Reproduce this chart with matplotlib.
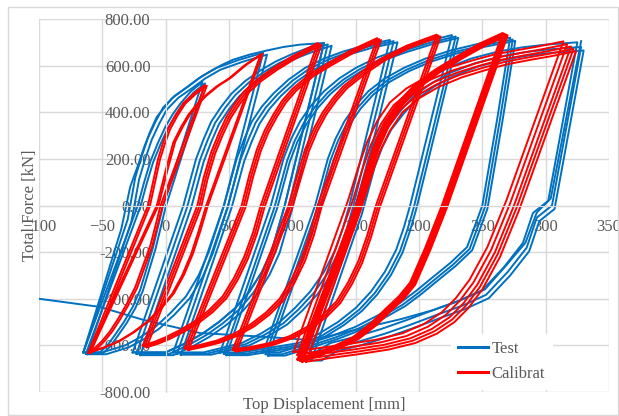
import matplotlib
matplotlib.use("Agg")
import matplotlib.pyplot as plt
from matplotlib.patches import Rectangle

plt.rcParams['font.family'] = ['Liberation Serif', 'DejaVu Serif']
plt.rcParams['font.size'] = 12

# Test cycles: loading branch (trough -> peak), unloading branch (peak -> trough),
# and the small drift between repeated cycles (dx [mm], dF [kN])
test_up_1 = [(-65, -630), (-22, 0), (-17, 100), (-12, 190), (-6, 270), (0, 340), (6, 395), (12, 440),
             (20, 490), (29, 530)]
test_dn_1 = [(29, 530), (-2, 0), (-6, -90), (-10, -180), (-15, -270), (-20, -360), (-26, -435), (-33, -500),
             (-40, -555), (-46, -600), (-52, -630), (-65, -630)]
test_cyc_1 = [(0, 0), (2, -6)]

test_up_2 = [(-65, -630), (-30, -60), (-27, 30), (-24, 120), (-19, 210), (-14, 290), (-8, 360), (-2, 420),
             (7, 470), (17, 508), (28, 552), (40, 590), (58, 625), (77, 655)]
test_dn_2 = [(77, 655), (46, 0), (40, -100), (34, -200), (26, -300), (16, -390), (4, -460), (-8, -520),
             (-20, -565), (-32, -600), (-50, -630), (-65, -630)]
test_cyc_2 = [(0, 0), (3, -8)]

test_up_3 = [(-65, -630), (-35, -100), (-28, 80), (-22, 170), (-17, 250), (-12, 320), (-7, 380), (5, 460),
             (17, 508), (26, 545), (35, 575), (44, 602), (53, 625), (66, 647), (80, 665), (93, 680),
             (106, 690), (125, 697)]
test_dn_3 = [(125, 697), (94, 0), (89, -95), (84, -190), (76, -285), (66, -370), (55, -440), (42, -500),
             (29, -550), (16, -590), (0, -630), (-26, -630)]
test_cyc_3 = [(0, 0)]

test_up_4 = [(-26, -630), (14, 0), (19, 100), (24, 200), (30, 285), (36, 360), (44, 425), (52, 480),
             (63, 535), (75, 580), (87, 618), (100, 650), (112, 675), (125, 697)]
test_dn_4 = test_dn_3
test_cyc_4 = [(0, 0), (3, -6), (6, -12)]

test_up_5 = [(6, -630), (46, 0), (51, 100), (56, 200), (62, 285), (68, 360), (76, 425), (85, 480),
             (97, 540), (110, 590), (125, 630), (140, 660), (158, 688), (177, 710)]
test_dn_5 = [(177, 710), (145, 0), (140, -95), (134, -190), (125, -285), (114, -370), (102, -440),
             (90, -500), (75, -550), (60, -590), (30, -630), (6, -630)]
test_cyc_5 = [(0, 0), (3, -5), (6, -10)]

test_up_6 = [(43, -630), (83, 0), (88, 100), (93, 200), (99, 285), (106, 360), (115, 430), (125, 490),
             (137, 545), (150, 590), (167, 635), (185, 670), (205, 703), (226, 731)]
test_dn_6 = [(226, 731), (193, 0), (188, -95), (182, -190), (173, -285), (162, -370), (150, -440),
             (136, -500), (121, -550), (105, -590), (60, -630), (43, -630)]
test_cyc_6 = [(0, 0), (3, -6), (5, -12)]

test_up_7 = [(77, -630), (118, 0), (123, 100), (128, 200), (134, 285), (141, 360), (150, 430), (160, 490),
             (173, 545), (188, 590), (205, 630), (225, 665), (248, 695), (272, 720)]
test_dn_7 = [(272, 720), (262, 380), (250, 0), (238, -178), (225, -245), (211, -307), (198, -365),
             (185, -418), (168, -470), (150, -520), (132, -558), (114, -590), (90, -630), (77, -630)]
test_cyc_7 = [(0, 0), (2, -8), (4, -14)]

test_up_8 = [(110, -630), (150, 0), (155, 100), (160, 200), (166, 285), (173, 360), (183, 430), (193, 490),
             (207, 545), (222, 590), (241, 630), (262, 660), (281, 678), (300, 690), (325, 700)]
test_dn_8 = [(325, 700), (302, 20), (290, -32), (282, -161), (267, -265), (250, -363), (231, -410),
             (211, -449), (190, -492), (170, -530), (150, -563), (130, -590), (118, -630), (110, -630)]
test_cyc_8 = [(0, 0), (3, -20), (5, -35)]

# last half cycle, pushed back past the start point
test_last = [(328, 705), (304, 30), (293, -30), (284, -160), (268, -262), (252, -360), (232, -408),
             (211, -449), (186, -487), (160, -520), (137, -550), (114, -577), (80, -564), (27, -547),
             (-18, -490), (-52, -435), (-100, -400)]

# Calibration cycles
cal_up_1 = [(-61, -630), (-14, 0), (-10, 100), (-6, 200), (-2, 270), (2, 330), (8, 390), (14, 440),
            (22, 480), (31, 517)]
cal_dn_1 = [(31, 517), (-4, 0), (-8, -85), (-12, -170), (-18, -260), (-24, -350), (-31, -425), (-38, -490),
            (-44, -540), (-50, -580), (-55, -607), (-61, -630)]
cal_cyc_1 = [(0, 0), (1.5, -3)]

cal_up_2 = [(-61, -632), (-7, 0), (0, 150), (6, 270), (12, 335), (18, 390), (24, 430), (30, 465),
            (40, 510), (50, 545), (62, 600), (75, 648)]
cal_dn_2 = [(75, 648), (32, 0), (26, -110), (20, -210), (13, -300), (5, -380), (-5, -445), (-15, -500),
            (-26, -545), (-38, -585), (-50, -612), (-61, -632)]
cal_cyc_2 = [(0, 0), (1.5, 3)]

cal_up_3 = [(-18, -600), (25, 0), (30, 120), (36, 230), (42, 310), (48, 380), (55, 440), (62, 490),
            (72, 540), (85, 590), (100, 640), (120, 697)]
cal_dn_3 = [(120, 697), (75, 0), (69, -115), (62, -220), (54, -310), (45, -390), (34, -450), (22, -500),
            (11, -535), (0, -565), (-9, -585), (-18, -600)]
cal_cyc_3 = [(0, 0), (1.5, -4), (3, -8)]

cal_up_4 = [(15, -612), (60, 0), (66, 130), (72, 240), (78, 320), (85, 390), (92, 450), (100, 500),
            (113, 560), (128, 610), (146, 665), (167, 718)]
cal_dn_4 = [(167, 718), (120, 0), (114, -120), (107, -230), (99, -320), (90, -400), (79, -460), (67, -510),
            (54, -550), (40, -580), (27, -598), (15, -612)]
cal_cyc_4 = [(0, 0), (1.5, -4), (3, -8)]

cal_up_5 = [(53, -618), (97, 0), (104, 130), (110, 240), (117, 330), (124, 400), (132, 460), (140, 510),
            (155, 575), (170, 630), (190, 685), (214, 733)]
cal_dn_5 = [(214, 733), (166, 0), (159, -130), (152, -240), (144, -330), (135, -410), (124, -470),
            (112, -520), (98, -560), (82, -590), (67, -607), (53, -618)]
cal_cyc_5 = [(0, 0), (1.5, -4), (3, -8)]

cal_up_6 = [(104, -660), (150, 0), (157, 130), (164, 250), (172, 350), (183, 440), (196, 515), (212, 580),
            (230, 640), (248, 695), (266, 740)]
cal_dn_6 = [(266, 740), (218, 0), (205, -180), (193, -330), (184, -390), (175, -436), (162, -505),
            (148, -564), (134, -600), (120, -628), (104, -660)]
cal_cyc_6 = [(0, 0), (0.8, -2), (1.6, -4), (2.4, -6), (3.2, -8), (4, -10)]

cal_up_7 = [(107, -650), (150, 0), (158, 140), (165, 250), (173, 340), (183, 420), (196, 480), (212, 530),
            (230, 570), (248, 600), (265, 625), (282, 643), (300, 660), (320, 682)]
cal_dn_7 = [(320, 682), (275, 0), (260, -200), (246, -340), (235, -420), (224, -480), (210, -530),
            (193, -570), (172, -598), (148, -618), (125, -635), (107, -650)]
cal_cyc_7 = [(-6, 22), (-3, 10), (0, 0), (2, -10), (4, -20)]

test_groups = [
    (test_up_1, test_dn_1, test_cyc_1),
    (test_up_2, test_dn_2, test_cyc_2),
    (test_up_3, test_dn_3, test_cyc_3),
    (test_up_4, test_dn_4, test_cyc_4),
    (test_up_5, test_dn_5, test_cyc_5),
    (test_up_6, test_dn_6, test_cyc_6),
    (test_up_7, test_dn_7, test_cyc_7),
    (test_up_8, test_dn_8, test_cyc_8),
]
cal_groups = [
    (cal_up_1, cal_dn_1, cal_cyc_1),
    (cal_up_2, cal_dn_2, cal_cyc_2),
    (cal_up_3, cal_dn_3, cal_cyc_3),
    (cal_up_4, cal_dn_4, cal_cyc_4),
    (cal_up_5, cal_dn_5, cal_cyc_5),
    (cal_up_6, cal_dn_6, cal_cyc_6),
    (cal_up_7, cal_dn_7, cal_cyc_7),
]

BLUE = '#0070C0'
RED = '#FF0000'
GRID = '#D9D9D9'
TXT = '#595959'


def draw_cycles(ax, groups, color, lw):
    for up, dn, cycles in groups:
        pts = up + dn[1:]
        for dx, df in cycles:
            ax.plot([p[0] + dx for p in pts], [p[1] + df for p in pts],
                    color=color, lw=lw, solid_joinstyle='round')


fig = plt.figure(figsize=(6.19, 4.16), dpi=100)
ax = fig.add_axes([39 / 619, 1 - 392 / 416, 570 / 619, 373 / 416])

draw_cycles(ax, test_groups, BLUE, 1.4)
ax.plot([p[0] for p in test_last], [p[1] for p in test_last], color=BLUE, lw=1.4)
draw_cycles(ax, cal_groups, RED, 1.4)

ax.set_xlim(-100, 350)
ax.set_ylim(-800, 800)
ax.set_xticks(range(-100, 351, 50))
ax.set_yticks(range(-800, 801, 200))
ax.set_yticklabels([f"{v:.2f}" for v in range(-800, 801, 200)])
ax.grid(True, color=GRID, lw=1.0)
ax.set_axisbelow(True)

# axes cross at the origin, labels sit next to them
ax.spines['left'].set_position(('data', 0))
ax.spines['bottom'].set_position(('data', 0))
for s in ['left', 'bottom']:
    ax.spines[s].set_color(GRID)
for s in ['top', 'right']:
    ax.spines[s].set_visible(False)
ax.tick_params(length=0, colors=TXT, labelsize=12)
ax.tick_params(axis='y', pad=11)
ax.tick_params(axis='x', pad=10)

fig.text(324 / 619, 1 - 405 / 416, 'Top Displacement [mm]', ha='center', va='center', color=TXT, fontsize=12)
fig.text(30 / 619, 1 - 205 / 416, 'Total Force [kN]', ha='center', va='center', rotation=90,
         color=TXT, fontsize=12)

h_test, = ax.plot([], [], color=BLUE, lw=2.2)
h_cal, = ax.plot([], [], color=RED, lw=2.2)
ax.legend([h_test, h_cal], ['Test', 'Calibrat'], loc='upper left',
          bbox_to_anchor=(443 / 619, 1 - 326 / 416), bbox_transform=fig.transFigure,
          frameon=True, fancybox=False, framealpha=1, edgecolor='white', fontsize=12,
          labelcolor=TXT, handlelength=1.8, handletextpad=0.2, borderpad=0.4, labelspacing=0.55)

fig.patches.append(Rectangle((8 / 619, 1 / 416), 610 / 619, 408 / 416, transform=fig.transFigure,
                             fill=False, edgecolor=GRID, lw=1.0))

fig.savefig('out.png', dpi=100)
